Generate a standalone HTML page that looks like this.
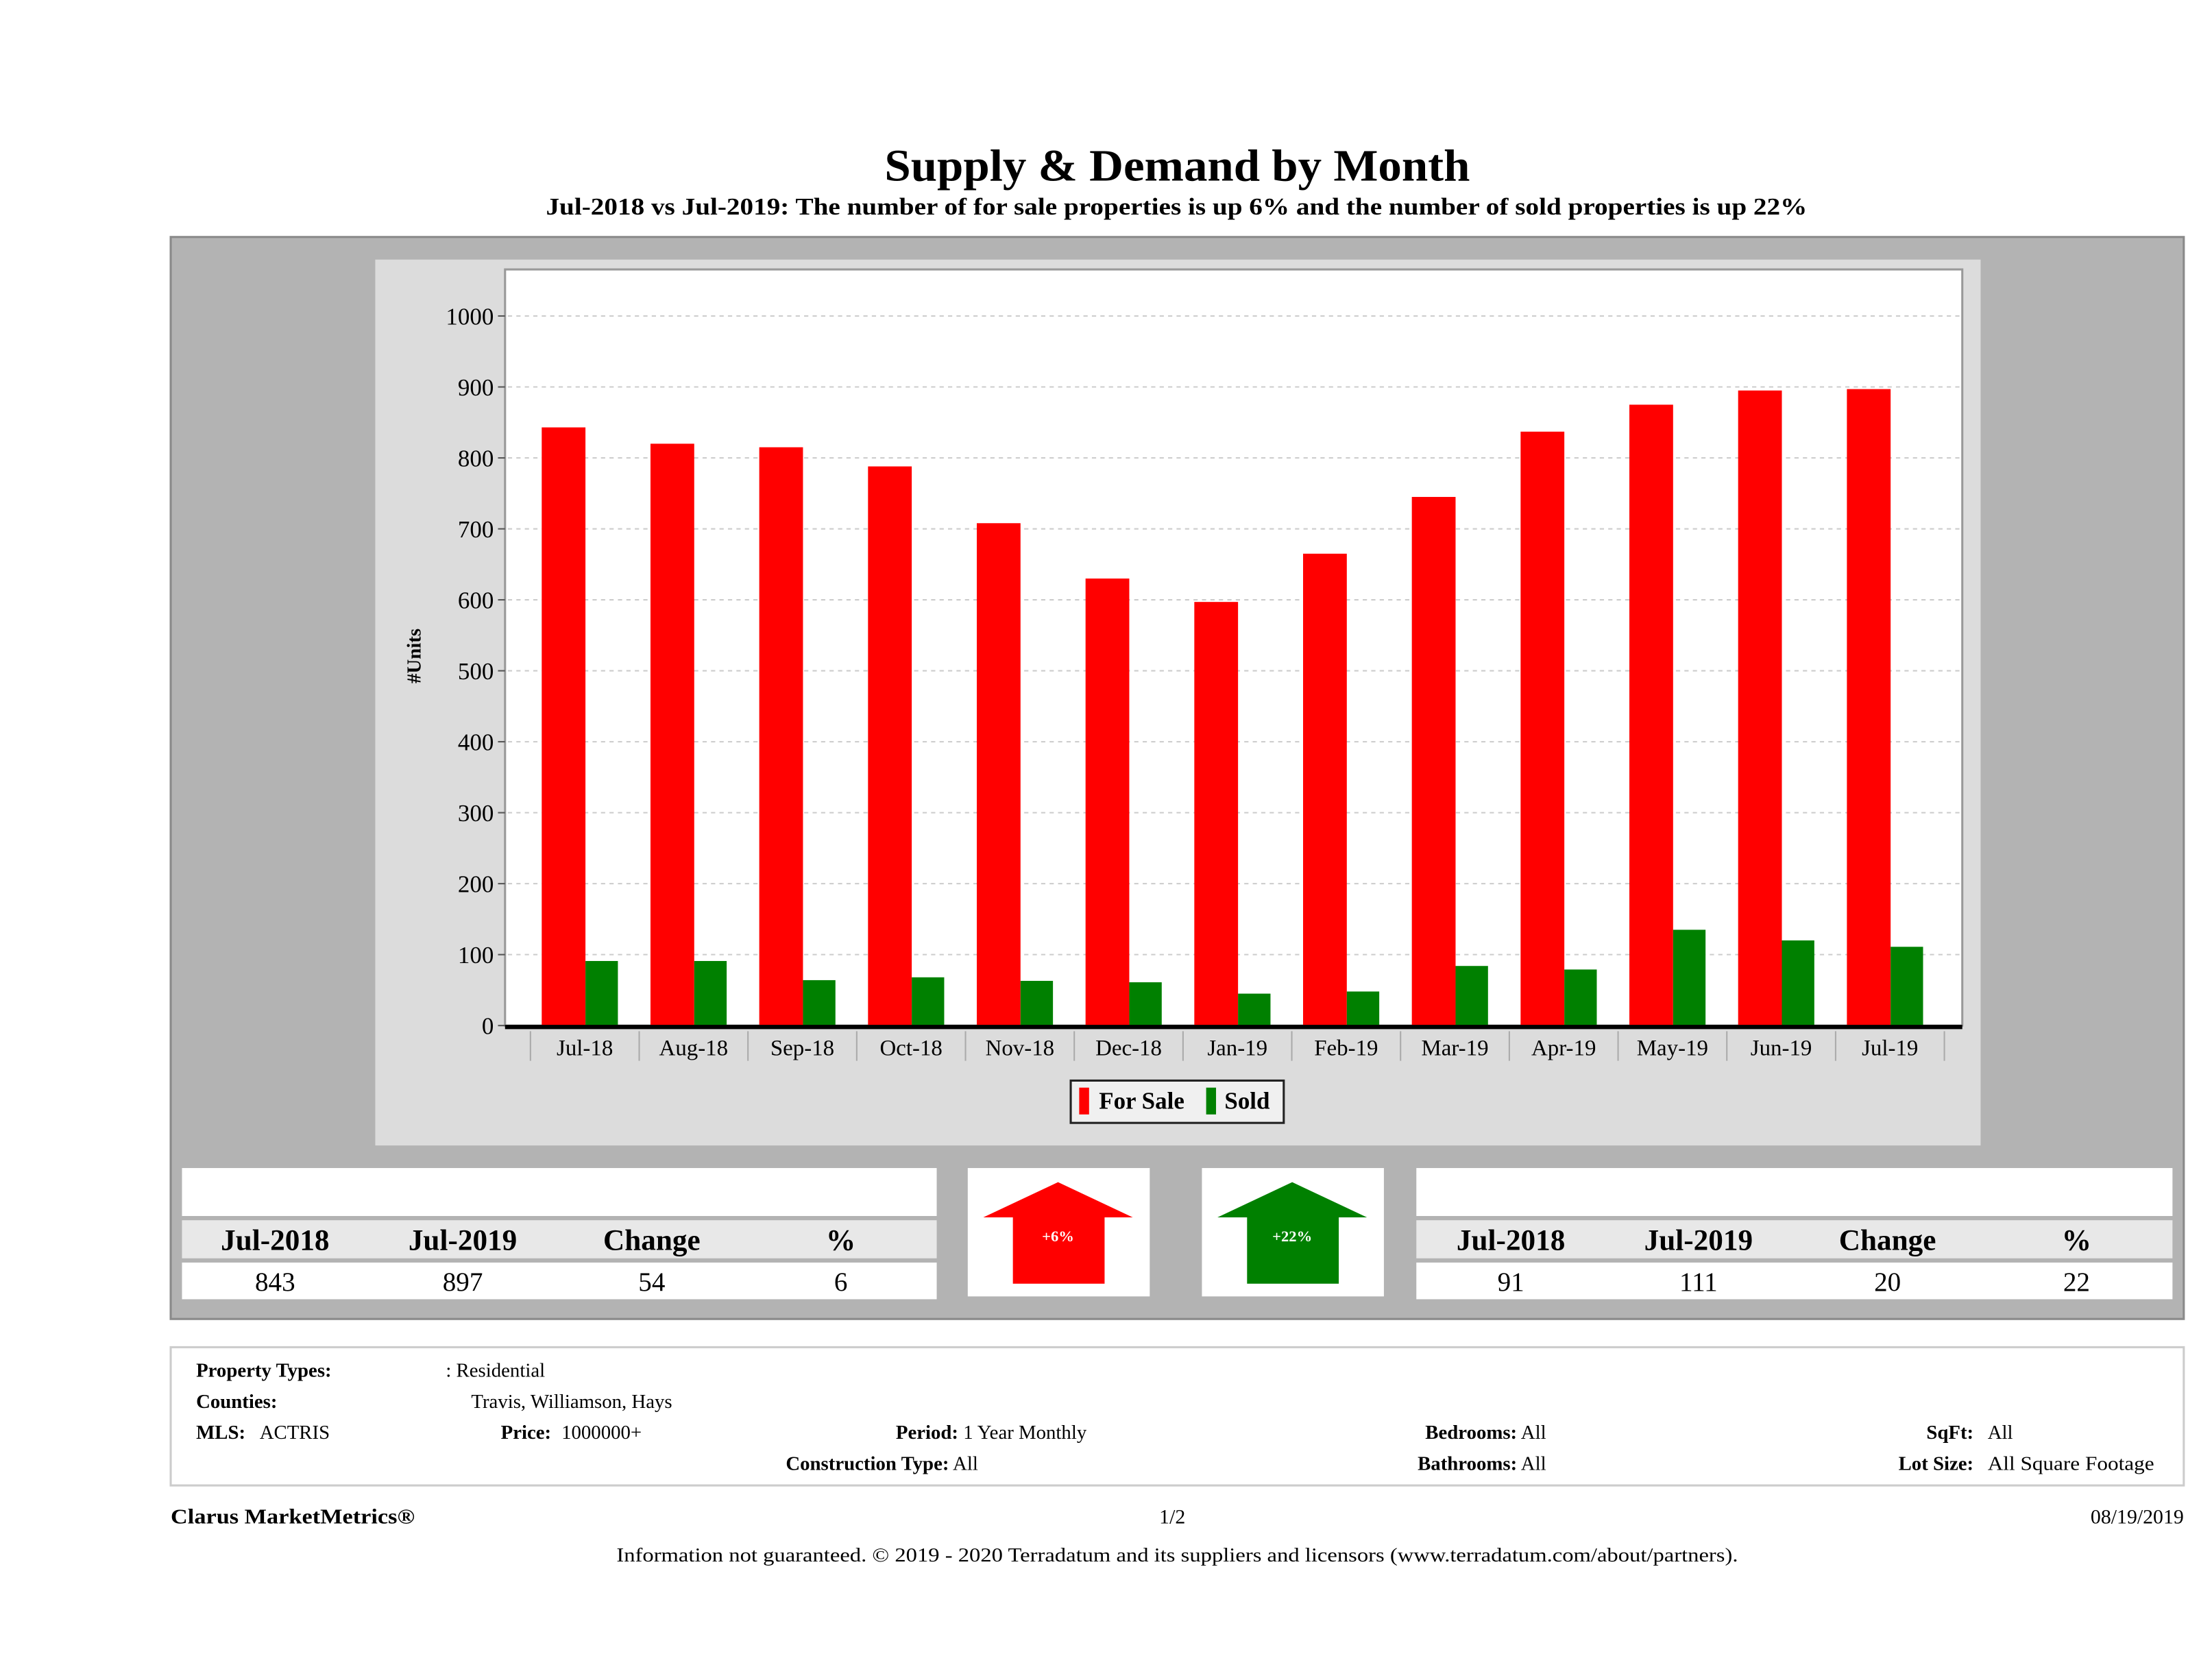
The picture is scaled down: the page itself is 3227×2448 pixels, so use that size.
<!DOCTYPE html>
<html><head><meta charset="utf-8"><style>
html,body{margin:0;padding:0;background:#fff;}
svg{display:block;font-family:"Liberation Serif",serif;}
</style></head><body>
<svg id="page" width="3227" height="2448" viewBox="0 0 1568 1189.5" xmlns="http://www.w3.org/2000/svg">
<rect x="0" y="0" width="1568" height="1190" fill="#fff"/>
<text x="627" y="128" textLength="415" lengthAdjust="spacingAndGlyphs" font-size="32" font-weight="bold">Supply &amp; Demand by Month</text>
<text x="387" y="152" textLength="894" lengthAdjust="spacingAndGlyphs" font-size="17" font-weight="bold">Jul-2018 vs Jul-2019: The number of for sale properties is up 6% and the number of sold properties is up 22%</text>
<rect x="121" y="168" width="1427" height="767" fill="#b3b3b3" stroke="#8a8a8a" stroke-width="1.5"/>
<rect x="266" y="184" width="1138" height="628" fill="#dcdcdc"/>
<rect x="358" y="191" width="1033" height="536" fill="#fff" stroke="#999" stroke-width="1.5"/>
<g id="grid"></g>
<g id="bars"></g>
<g id="yaxis"></g>
<g id="xaxis"></g>
<text transform="translate(298,465) rotate(-90)" text-anchor="middle" font-size="14" font-weight="bold">#Units</text>
<g>
<rect x="759" y="766" width="151" height="30" fill="#f0f0f0" stroke="#222" stroke-width="1.5"/>
<rect x="765" y="771" width="7" height="19" fill="#ff0000"/>
<text x="779" y="786" font-size="17" font-weight="bold">For Sale</text>
<rect x="855" y="771" width="7" height="19" fill="#008000"/>
<text x="868" y="786" font-size="17" font-weight="bold">Sold</text>
</g>

<g>
<rect x="129" y="828" width="535" height="34" fill="#fff"/>
<rect x="129" y="865" width="535" height="27" fill="#e8e8e8"/>
<rect x="129" y="895" width="535" height="26" fill="#fff"/>
<g font-size="21" font-weight="bold" text-anchor="middle">
<text x="195" y="886">Jul-2018</text><text x="328" y="886">Jul-2019</text><text x="462" y="886">Change</text><text x="596" y="886">%</text>
</g>
<g font-size="19" text-anchor="middle">
<text x="195" y="915">843</text><text x="328" y="915">897</text><text x="462" y="915">54</text><text x="596" y="915">6</text>
</g>
</g>
<g>
<rect x="686" y="828" width="129" height="91" fill="#fff"/>
<polygon points="697,863 750,838 803,863 783,863 783,910 718,910 718,863" fill="#ff0000"/>
<text x="750" y="880" text-anchor="middle" font-size="11" font-weight="bold" fill="#fff">+6%</text>
</g>
<g>
<rect x="852" y="828" width="129" height="91" fill="#fff"/>
<polygon points="863,863 916,838 969,863 949,863 949,910 884,910 884,863" fill="#008000"/>
<text x="916" y="880" text-anchor="middle" font-size="11" font-weight="bold" fill="#fff">+22%</text>
</g>
<g>
<rect x="1004" y="828" width="536" height="34" fill="#fff"/>
<rect x="1004" y="865" width="536" height="27" fill="#e8e8e8"/>
<rect x="1004" y="895" width="536" height="26" fill="#fff"/>
<g font-size="21" font-weight="bold" text-anchor="middle">
<text x="1071" y="886">Jul-2018</text><text x="1204" y="886">Jul-2019</text><text x="1338" y="886">Change</text><text x="1472" y="886">%</text>
</g>
<g font-size="19" text-anchor="middle">
<text x="1071" y="915">91</text><text x="1204" y="915">111</text><text x="1338" y="915">20</text><text x="1472" y="915">22</text>
</g>
</g>

<g font-size="14">
<rect x="121" y="955" width="1427" height="98" fill="#fff" stroke="#ccc" stroke-width="1.5"/>
<text x="139" y="976" font-weight="bold">Property Types:</text><text x="316" y="976">: Residential</text>
<text x="139" y="998" font-weight="bold">Counties:</text><text x="334" y="998">Travis, Williamson, Hays</text>
<text x="139" y="1020" font-weight="bold">MLS:</text><text x="184" y="1020">ACTRIS</text>
<text x="355" y="1020" font-weight="bold">Price:</text><text x="398" y="1020">1000000+</text>
<text x="635" y="1020"><tspan font-weight="bold">Period:</tspan> 1 Year Monthly</text>
<text x="557" y="1042"><tspan font-weight="bold">Construction Type:</tspan> All</text>
<text x="1096" y="1020" text-anchor="end"><tspan font-weight="bold">Bedrooms:</tspan> All</text>
<text x="1096" y="1042" text-anchor="end"><tspan font-weight="bold">Bathrooms:</tspan> All</text>
<text x="1399" y="1020" text-anchor="end" font-weight="bold">SqFt:</text><text x="1409" y="1020">All</text>
<text x="1399" y="1042" text-anchor="end" font-weight="bold">Lot Size:</text><text x="1409" y="1042" textLength="118" lengthAdjust="spacingAndGlyphs">All Square Footage</text>
</g>
<text x="121" y="1080" textLength="173" lengthAdjust="spacingAndGlyphs" font-size="15" font-weight="bold">Clarus MarketMetrics®</text>
<text x="831" y="1080" text-anchor="middle" font-size="14.5">1/2</text>
<text x="1548" y="1080" text-anchor="end" font-size="14.5">08/19/2019</text>
<text x="437" y="1107" textLength="795" lengthAdjust="spacingAndGlyphs" font-size="14">Information not guaranteed. © 2019 - 2020 Terradatum and its suppliers and licensors (www.terradatum.com/about/partners).</text>
</svg>
<script>
const categories = ["Jul-18","Aug-18","Sep-18","Oct-18","Nov-18","Dec-18","Jan-19","Feb-19","Mar-19","Apr-19","May-19","Jun-19","Jul-19"];
const forSale = [843,820,815,788,708,630,597,665,745,837,875,895,897];
const sold = [91,91,64,68,63,61,45,48,84,79,135,120,111];
const yTicks = [0,100,200,300,400,500,600,700,800,900,1000];

const NS = "http://www.w3.org/2000/svg";
const x0 = 376, step = 77.1, y0 = 727, yTop = 224;
function yScale(v){ return y0 - v * (y0 - yTop) / 1000; }
function xBand(i){ return x0 + i * step; }
function mk(tag, attrs, parent){ const e = document.createElementNS(NS, tag); for (const k in attrs) e.setAttribute(k, attrs[k]); parent.appendChild(e); return e; }

const grid = document.getElementById('grid'), yaxis = document.getElementById('yaxis');
yTicks.forEach(t => {
  const y = yScale(t);
  if (t > 0) {
    const gl = mk('line', {x1: 360, x2: 1390, y1: y, y2: y, stroke: '#ccc', 'stroke-dasharray': '3,3', 'stroke-width': 1}, grid);
    
    
  }
  mk('line', {x1: 353, x2: 358, y1: y, y2: y, stroke: '#555'}, yaxis);
  const tl = mk('text', {x: 350, y: y + 6, 'text-anchor': 'end', 'font-size': 17}, yaxis);
  tl.textContent = t;
  
  
});

const bars = document.getElementById('bars'), xaxis = document.getElementById('xaxis');
categories.forEach((c, i) => {
  const bx = xBand(i);
  const r = mk('rect', {x: bx + 8, y: yScale(forSale[i]), width: 31, height: y0 - yScale(forSale[i]), fill: '#ff0000'}, bars);
  
  
  const g = mk('rect', {x: bx + 39, y: yScale(sold[i]), width: 23, height: y0 - yScale(sold[i]), fill: '#008000'}, bars);
  
  
  mk('line', {x1: bx, x2: bx, y1: 731, y2: 752, stroke: '#aaa'}, xaxis);
  const lbl = mk('text', {x: bx + step / 2, y: 748, 'text-anchor': 'middle', 'font-size': 16}, xaxis);
  lbl.textContent = c;
  
  
});
mk('line', {x1: xBand(categories.length), x2: xBand(categories.length), y1: 731, y2: 752, stroke: '#aaa'}, xaxis);
const base = mk('line', {x1: 358, x2: 1391, y1: y0 + 1, y2: y0 + 1, stroke: '#000', 'stroke-width': 3}, xaxis);


</script>
</body></html>
